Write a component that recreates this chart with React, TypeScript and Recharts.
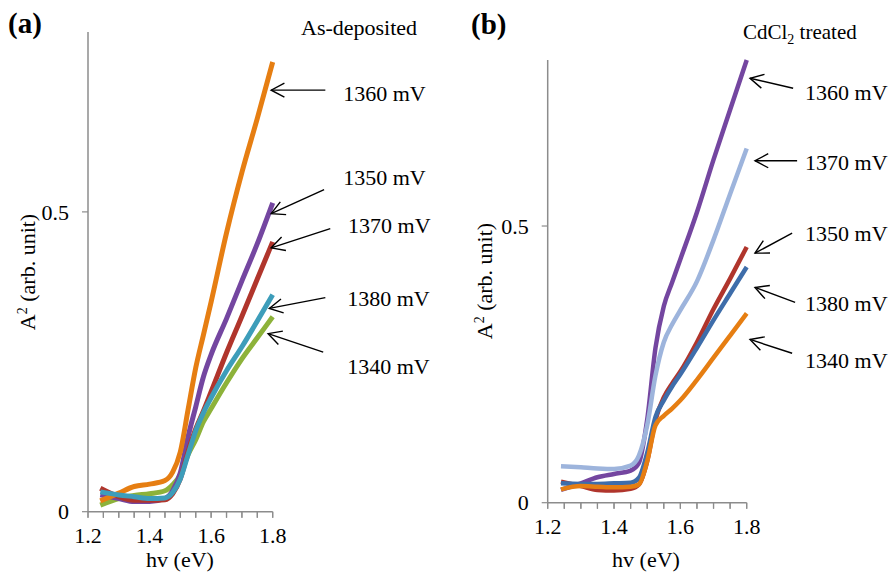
import React from 'react';
import { LineChart, Line, XAxis, YAxis, ReferenceLine, ReferenceDot } from 'recharts';

// photon energy (eV) sampled for both panels
const energy = [1.24, 1.3, 1.35, 1.4, 1.45, 1.475, 1.5, 1.525, 1.55, 1.575, 1.6, 1.65, 1.7, 1.75, 1.8];

// (a) as-deposited
const asDep1340 = [0.011, 0.022, 0.027, 0.03, 0.035, 0.045, 0.062, 0.095, 0.12, 0.15, 0.172, 0.215, 0.255, 0.29, 0.325];
const asDep1350 = [0.028, 0.022, 0.017, 0.017, 0.022, 0.035, 0.065, 0.125, 0.175, 0.225, 0.262, 0.322, 0.385, 0.447, 0.515];
const asDep1360 = [0.018, 0.031, 0.042, 0.046, 0.052, 0.066, 0.1, 0.17, 0.24, 0.295, 0.35, 0.465, 0.566, 0.656, 0.75];
const asDep1370 = [0.039, 0.025, 0.019, 0.019, 0.02, 0.03, 0.055, 0.1, 0.138, 0.168, 0.2, 0.265, 0.326, 0.388, 0.45];
const asDep1380 = [0.033, 0.028, 0.025, 0.022, 0.023, 0.032, 0.055, 0.095, 0.135, 0.165, 0.19, 0.235, 0.275, 0.318, 0.362];

// (b) CdCl2 treated
const cd1340 = [0.024, 0.03, 0.029, 0.028, 0.029, 0.033, 0.075, 0.14, 0.157, 0.17, 0.185, 0.222, 0.262, 0.302, 0.342];
const cd1350 = [0.038, 0.03, 0.023, 0.022, 0.025, 0.033, 0.075, 0.15, 0.19, 0.215, 0.237, 0.29, 0.35, 0.405, 0.462];
const cd1360 = [0.023, 0.035, 0.046, 0.052, 0.058, 0.072, 0.15, 0.28, 0.355, 0.398, 0.44, 0.525, 0.62, 0.71, 0.8];
const cd1370 = [0.066, 0.064, 0.062, 0.061, 0.067, 0.085, 0.14, 0.23, 0.29, 0.322, 0.348, 0.4, 0.475, 0.558, 0.64];
const cd1380 = [0.035, 0.034, 0.034, 0.035, 0.036, 0.045, 0.09, 0.155, 0.185, 0.21, 0.232, 0.28, 0.33, 0.378, 0.426];

const xTicks = [1.2, 1.25, 1.3, 1.35, 1.4, 1.45, 1.5, 1.55, 1.6, 1.65, 1.7, 1.75, 1.8];
const xLabelTicks = [1.2, 1.4, 1.6, 1.8];
const yTicks = [0, 0.5];

// arrow annotations, in data units: tail, tip, text anchor
const notesA = [
  { text: '1360 mV', from: [1.971, 0.703], to: [1.795, 0.703], at: [2.029, 0.698] },
  { text: '1350 mV', from: [1.967, 0.537], to: [1.795, 0.497], at: [2.029, 0.557] },
  { text: '1370 mV', from: [1.987, 0.472], to: [1.795, 0.44], at: [2.045, 0.477] },
  { text: '1380 mV', from: [1.971, 0.357], to: [1.789, 0.339], at: [2.042, 0.356] },
  { text: '1340 mV', from: [1.964, 0.266], to: [1.785, 0.297], at: [2.042, 0.242] },
];
const notesB = [
  { text: '1360 mV', from: [1.94, 0.749], to: [1.81, 0.767], at: [1.976, 0.741] },
  { text: '1370 mV', from: [1.952, 0.618], to: [1.825, 0.618], at: [1.976, 0.615] },
  { text: '1350 mV', from: [1.937, 0.487], to: [1.825, 0.451], at: [1.976, 0.487] },
  { text: '1380 mV', from: [1.946, 0.362], to: [1.825, 0.389], at: [1.976, 0.36] },
  { text: '1340 mV', from: [1.937, 0.27], to: [1.81, 0.295], at: [1.976, 0.257] },
];

const FONT = '"Liberation Serif", "Times New Roman", serif';
const AXIS = '#8c8c8c';
const TICK = 6;
const X_GAP = 10;

const rows = (series: Record<string, number[]>) =>
  energy.map((hv, i) => {
    const r: any = { hv };
    Object.keys(series).forEach((k) => (r[k] = series[k][i]));
    return r;
  });

const dataA = rows({ v1340: asDep1340, v1350: asDep1350, v1360: asDep1360, v1370: asDep1370, v1380: asDep1380 });
const dataB = rows({ v1340: cd1340, v1350: cd1350, v1360: cd1360, v1370: cd1370, v1380: cd1380 });

const Arrow = (props: any) => {
  const { x1, y1, x2, y2 } = props;
  const dx = x1 - x2;
  const dy = y1 - y2;
  const len = Math.sqrt(dx * dx + dy * dy) || 1;
  const ux = dx / len;
  const uy = dy / len;
  const L = 15;
  const a = (28 * Math.PI) / 180;
  const rot = (s: number) => [
    x2 + L * (ux * Math.cos(s * a) - uy * Math.sin(s * a)),
    y2 + L * (ux * Math.sin(s * a) + uy * Math.cos(s * a)),
  ];
  const p = rot(1);
  const q = rot(-1);
  return (
    <g>
      <line x1={x1} y1={y1} x2={x2} y2={y2} stroke="#000" strokeWidth={1.4} />
      <polyline points={`${p[0]},${p[1]} ${x2},${y2} ${q[0]},${q[1]}`} fill="none" stroke="#000" strokeWidth={1.4} />
    </g>
  );
};

const noteLabel = (text: string) => (props: any) => (
  <text x={props.cx} y={props.cy} dy="0.35em" fontFamily={FONT} fontSize={22} fill="#000">
    {text}
  </text>
);

const isMajor = (v: number) => xLabelTicks.some((t) => Math.abs(t - v) < 1e-6);

// tick mark + label drawn here so the minor marks and serif face are certain
const XTick = ({ x, y, payload }: any) => {
  const axisY = y - X_GAP - TICK;
  return (
    <g>
      <line x1={x} x2={x} y1={axisY} y2={axisY + TICK} stroke={AXIS} strokeWidth={1.2} />
      {isMajor(payload.value) && (
        <text x={x} y={y} dy="0.71em" textAnchor="middle" fontFamily={FONT} fontSize={22} fill="#000">
          {payload.value.toFixed(1)}
        </text>
      )}
    </g>
  );
};

const YTick = ({ x, y, payload }: any) => (
  <text x={x} y={y} dy="0.35em" textAnchor="end" fontFamily={FONT} fontSize={22} fill="#000">
    {String(payload.value)}
  </text>
);

type Panel = {
  data: any[];
  notes: typeof notesA;
  width: number;
  left: number;
  axisW: number;
  top: number;
  right: number;
  bottom: number;
  lw: number;
  series: { key: string; color: string }[];
};

const Chart = ({ data, notes, width, left, axisW, top, right, bottom, lw, series }: Panel) => (
  <div style={{ position: 'absolute', left, top: 0 }}>
    <LineChart width={width} height={575} data={data} margin={{ top, right, bottom, left: 0 }}>
      <XAxis
        dataKey="hv"
        type="number"
        domain={[1.2, 1.8]}
        ticks={xTicks}
        interval={0}
        height={40}
        stroke={AXIS}
        axisLine={{ stroke: AXIS, strokeWidth: 1.5 }}
        tickLine={{ stroke: AXIS, strokeWidth: 1.2 }}
        tickSize={TICK}
        tickMargin={X_GAP}
        tick={<XTick />}
      />
      <YAxis
        type="number"
        domain={[0, 0.8]}
        ticks={yTicks}
        width={axisW}
        stroke={AXIS}
        axisLine={{ stroke: AXIS, strokeWidth: 1.5 }}
        tickLine={{ stroke: AXIS, strokeWidth: 1.2 }}
        tickSize={TICK}
        tickMargin={13}
        tick={<YTick />}
      />
      {series.map((s) => (
        <Line
          key={s.key}
          dataKey={s.key}
          type="monotone"
          stroke={s.color}
          strokeWidth={lw}
          dot={false}
          isAnimationActive={false}
        />
      ))}
      {notes.map((n) => (
        <ReferenceLine
          key={n.text + 'l'}
          segment={[{ x: n.from[0], y: n.from[1] }, { x: n.to[0], y: n.to[1] }]}
          ifOverflow="visible"
          shape={Arrow}
        />
      ))}
      {notes.map((n) => (
        <ReferenceDot key={n.text + 't'} x={n.at[0]} y={n.at[1]} ifOverflow="visible" shape={noteLabel(n.text)} />
      ))}
    </LineChart>
  </div>
);

const YTitle = ({ x, y }: { x: number; y: number }) => (
  <text
    x={x}
    y={y}
    transform={`rotate(-90 ${x} ${y})`}
    textAnchor="middle"
    dy="0.35em"
    fontFamily={FONT}
    fontSize={22}
    fill="#000"
  >
    A<tspan dy={-8} fontSize={14}>2</tspan>
    <tspan dy={8}> (arb. unit)</tspan>
  </text>
);

export default function App() {
  return (
    <div
      style={{
        position: 'absolute',
        left: 0,
        top: 0,
        width: 896,
        height: 575,
        background: '#fff',
        fontFamily: FONT,
      }}
    >
      <Chart
        data={dataA}
        notes={notesA}
        width={440}
        left={0}
        axisW={88}
        top={32}
        right={167.3}
        bottom={23.3}
        lw={5}
        series={[
          { key: 'v1340', color: '#8db23a' },
          { key: 'v1350', color: '#7446a0' },
          { key: 'v1370', color: '#b0352c' },
          { key: 'v1360', color: '#e67e12' },
          { key: 'v1380', color: '#3d9dba' },
        ]}
      />
      <Chart
        data={dataB}
        notes={notesB}
        width={446}
        left={450}
        axisW={97.7}
        top={60}
        right={149.3}
        bottom={32.3}
        lw={4.5}
        series={[
          { key: 'v1360', color: '#7446a0' },
          { key: 'v1370', color: '#9db4dc' },
          { key: 'v1350', color: '#b0352c' },
          { key: 'v1380', color: '#3e6daa' },
          { key: 'v1340', color: '#e67e12' },
        ]}
      />
      <svg width={896} height={575} style={{ position: 'absolute', left: 0, top: 0, pointerEvents: 'none' }}>
        <text x={8} y={33} fontFamily={FONT} fontSize={29} fontWeight="bold" fill="#000">(a)</text>
        <text x={471} y={34} fontFamily={FONT} fontSize={29} fontWeight="bold" fill="#000">(b)</text>
        <text x={301} y={35} fontFamily={FONT} fontSize={22} fill="#000">As-deposited</text>
        <text x={743} y={39} fontFamily={FONT} fontSize={21} fill="#000">
          CdCl<tspan dy={5} fontSize={14}>2</tspan>
          <tspan dy={-5}> treated</tspan>
        </text>
        <YTitle x={27} y={272} />
        <YTitle x={484} y={281} />
        <text x={180} y={567} textAnchor="middle" fontFamily={FONT} fontSize={22} fill="#000">hv (eV)</text>
        <text x={646} y={567} textAnchor="middle" fontFamily={FONT} fontSize={22} fill="#000">hv (eV)</text>
      </svg>
    </div>
  );
}
